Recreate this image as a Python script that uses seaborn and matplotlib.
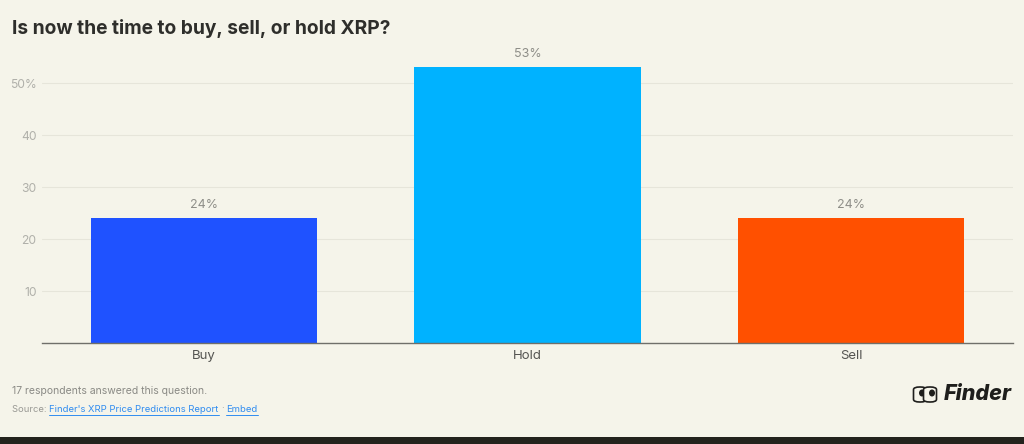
import matplotlib
matplotlib.use("Agg")
import matplotlib.pyplot as plt
import matplotlib.patches as mpatches
import seaborn as sns
import pandas as pd

categories = ["Buy", "Hold", "Sell"]
shares = [24, 53, 24]
bar_colors = ["#1f52ff", "#00b2ff", "#ff5000"]
y_ticks = [10, 20, 30, 40, 50]
y_tick_labels = ["10", "20", "30", "40", "50%"]

bg = "#f5f4ea"

sns.set_theme(style="white")
plt.rcParams["font.family"] = ["Inter", "DejaVu Sans"]

df = pd.DataFrame({"answer": categories, "share": shares})

fig = plt.figure(figsize=(10.24, 4.44), dpi=100, facecolor=bg)
ax = fig.add_axes([42 / 1024, 1 - 343 / 444, (1013 - 42) / 1024, (343 - 57) / 444])
ax.set_facecolor(bg)

sns.barplot(data=df, x="answer", y="share", hue="answer", palette=bar_colors,
            width=0.7, saturation=1, legend=False, linewidth=0, ax=ax)

ax.set_xlim(-0.5, 2.5)
ax.set_ylim(0, 55)
ax.set_yticks(y_ticks)
ax.set_yticklabels(y_tick_labels)
ax.yaxis.grid(True, color="#e6e5da", linewidth=0.8)
ax.set_axisbelow(True)
for side in ["top", "right", "left"]:
    ax.spines[side].set_visible(False)
ax.spines["bottom"].set_color("#6f6f6a")
ax.spines["bottom"].set_linewidth(1.0)
ax.tick_params(axis="y", length=0, pad=4, labelsize=8.7, labelcolor="#b0b0aa")
ax.tick_params(axis="x", length=0, pad=5, labelsize=9.5, labelcolor="#555552")
ax.set_xlabel("")
ax.set_ylabel("")

# value labels above the bars
for i, v in enumerate(shares):
    ax.annotate(f"{v}%", (i, v), xytext=(0, 5), textcoords="offset points",
                ha="center", va="bottom", fontsize=9, color="#8e8e88")

# title
fig.text(12 / 1024, 1 - 28 / 444, "Is now the time to buy, sell, or hold XRP?",
         fontsize=13.8, fontweight="bold", color="#2e2e2b", va="center")

# footer
fig.text(12 / 1024, 1 - 391 / 444, "17 respondents answered this question.",
         fontsize=7.5, color="#8a8a85", va="center")

fig.canvas.draw()
renderer = fig.canvas.get_renderer()
x_px = 12
y_px = 409
pieces = [("Source: ", "#9a9a95", False),
          ("Finder's XRP Price Predictions Report", "#2f8cf0", True),
          ("·", "#9a9a95", False),
          ("Embed", "#2f8cf0", True)]
for txt, col, link in pieces:
    if txt == "·" or txt == "Embed":
        x_px += 2.5
    t = fig.text(x_px / 1024, 1 - y_px / 444, txt, fontsize=6.8, color=col, va="center")
    w = t.get_window_extent(renderer).width
    if link:
        fig.add_artist(plt.Line2D([x_px / 1024, (x_px + w) / 1024],
                                  [1 - (y_px + 5.5) / 444, 1 - (y_px + 5.5) / 444],
                                  color=col, linewidth=0.7))
    x_px += w

# Finder logo
fig.text(1012 / 1024, 1 - 394 / 444, "Finder", fontsize=15.5, fontweight="heavy",
         fontstyle="italic", color="#1e1e1c", ha="right", va="center")
for cx in [920, 930]:
    fig.add_artist(mpatches.FancyBboxPatch(((cx - 6.5) / 1024, 1 - 402 / 444), 13 / 1024, 15 / 444,
                                           boxstyle="round,pad=0,rounding_size=0.006",
                                           facecolor=bg, edgecolor="#1e1e1c", linewidth=1.2))
    fig.add_artist(mpatches.Ellipse(((cx + 2) / 1024, 1 - 393 / 444), 6 / 1024, 7 / 444,
                                    facecolor="#1e1e1c", edgecolor="none"))

# dark strip at the bottom
fig.add_artist(mpatches.Rectangle((0, 0), 1, 7 / 444, facecolor="#23231d", edgecolor="none"))

fig.savefig("out.png", dpi=100, facecolor=bg)
